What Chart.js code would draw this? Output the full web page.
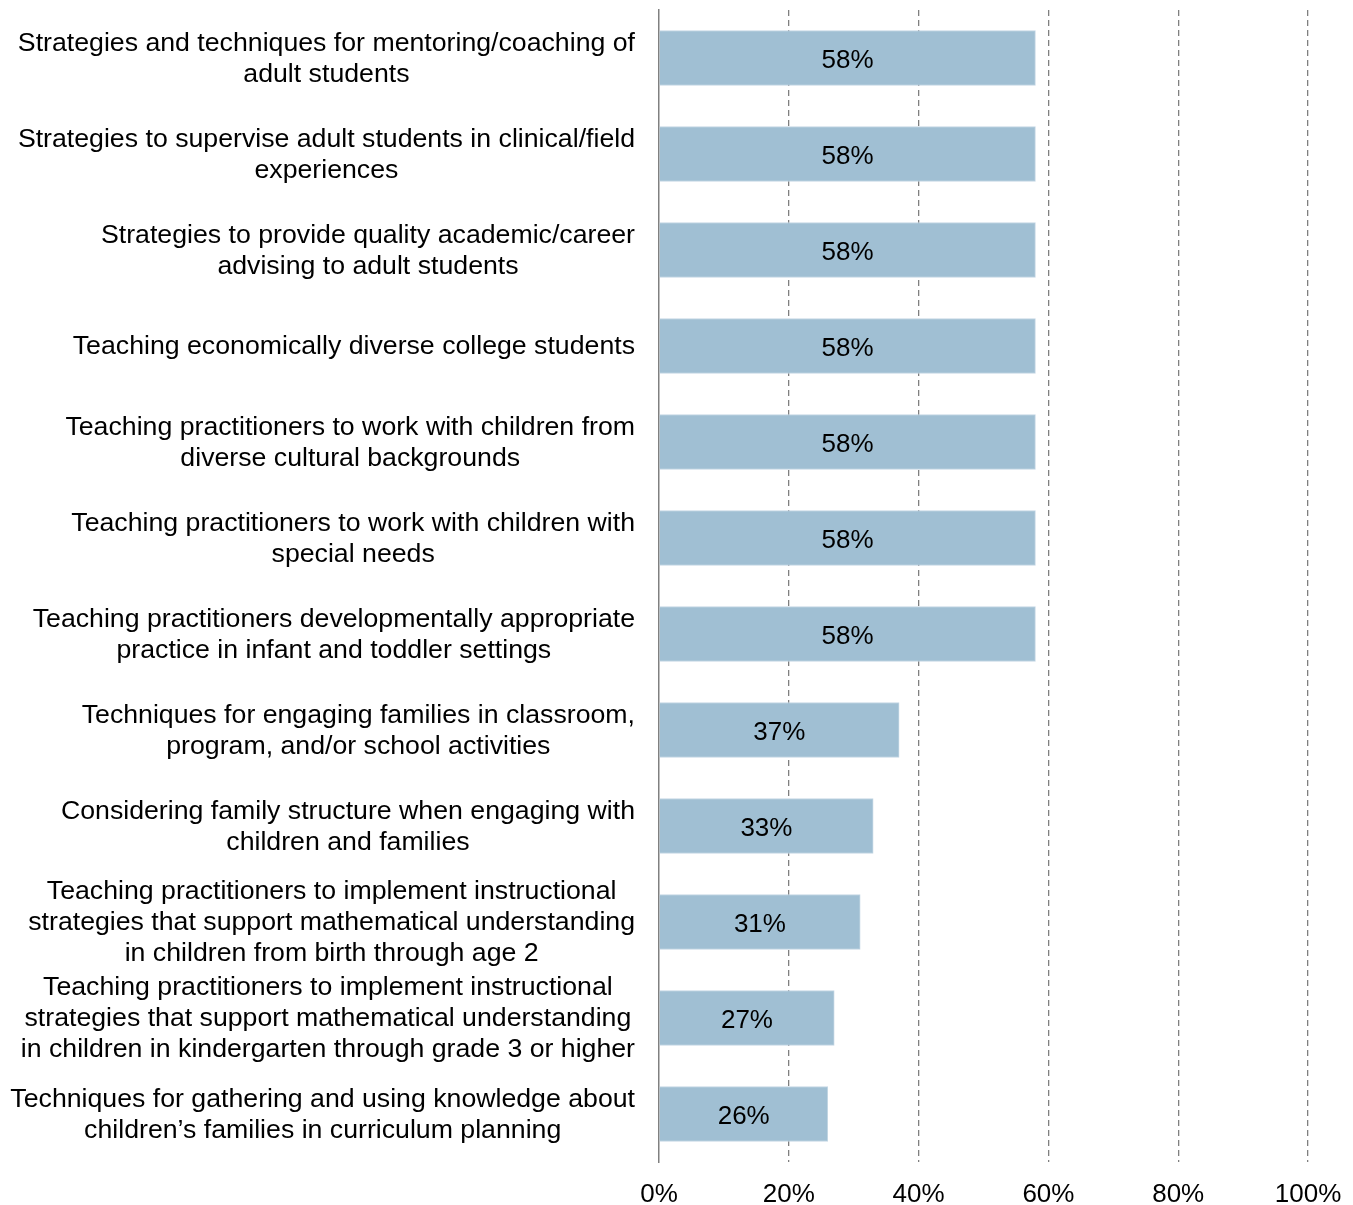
<!DOCTYPE html>
<html>
<head>
<meta charset="utf-8">
<script src="https://cdn.jsdelivr.net/npm/chart.js@4"></script>
<style>
  body { margin: 0; background: #fff; }
  canvas { display: block; }
</style>
</head>
<body>
<canvas id="chart" width="1353" height="1205"></canvas>
<script>
const topicLabels = [
    ['Strategies and techniques for mentoring/coaching of', 'adult students'],
    ['Strategies to supervise adult students in clinical/field', 'experiences'],
    ['Strategies to provide quality academic/career', 'advising to adult students'],
    ['Teaching economically diverse college students'],
    ['Teaching practitioners to work with children from', 'diverse cultural backgrounds'],
    ['Teaching practitioners to work with children with', 'special needs'],
    ['Teaching practitioners developmentally appropriate', 'practice in infant and toddler settings'],
    ['Techniques for engaging families in classroom,', 'program, and/or school activities'],
    ['Considering family structure when engaging with', 'children and families'],
    ['Teaching practitioners to implement instructional', 'strategies that support mathematical understanding', 'in children from birth through age 2'],
    ['Teaching practitioners to implement instructional', 'strategies that support mathematical understanding', 'in children in kindergarten through grade 3 or higher'],
    ['Techniques for gathering and using knowledge about', 'children\u2019s families in curriculum planning']
];
const percentValues = [58, 58, 58, 58, 58, 58, 58, 37, 33, 31, 27, 26];
const xTicks = [0, 20, 40, 60, 80, 100];

const fontFamily = '"Liberation Sans", Arial, sans-serif';

// category labels: block right-aligned next to the axis, lines centred inside the block
const sideLabels = {
    id: 'sideLabels',
    afterDraw(chart) {
        const ctx = chart.ctx;
        const yScale = chart.scales.y;
        const right = chart.chartArea.left - 24;
        const lineH = 31;
        ctx.save();
        ctx.font = '26.7px ' + fontFamily;
        ctx.fillStyle = '#000';
        ctx.textAlign = 'center';
        ctx.textBaseline = 'middle';
        topicLabels.forEach((lines, i) => {
            const y = yScale.getPixelForValue(i) + 1;
            const w = Math.max(...lines.map(l => ctx.measureText(l).width));
            const cx = right - w / 2;
            lines.forEach((line, j) => {
                ctx.fillText(line, cx, y + (j - (lines.length - 1) / 2) * lineH);
            });
        });
        ctx.restore();
    }
};

// value labels centred in each bar
const barValues = {
    id: 'barValues',
    afterDatasetsDraw(chart) {
        const ctx = chart.ctx;
        const meta = chart.getDatasetMeta(0);
        ctx.save();
        ctx.font = '26px ' + fontFamily;
        ctx.fillStyle = '#000';
        ctx.textAlign = 'center';
        ctx.textBaseline = 'middle';
        meta.data.forEach((bar, i) => {
            ctx.fillText(percentValues[i] + '%', (bar.base + bar.x) / 2, bar.y + 3);
        });
        ctx.restore();
    }
};

new Chart(document.getElementById('chart'), {
    type: 'bar',
    data: {
        labels: topicLabels.map(l => l.join(' ')),
        datasets: [{
            data: percentValues,
            backgroundColor: '#a0bfd3',
            borderColor: '#c4d7e4',
            borderWidth: 1,
            barThickness: 55
        }]
    },
    options: {
        indexAxis: 'y',
        responsive: false,
        animation: false,
        layout: {
            padding: { left: 659, right: 45, top: 10, bottom: 0 }
        },
        plugins: {
            legend: { display: false },
            tooltip: { enabled: false }
        },
        scales: {
            x: {
                min: 0,
                max: 100,
                afterBuildTicks(scale) {
                    scale.ticks = xTicks.map(v => ({ value: v }));
                },
                afterFit(scale) {
                    scale.height = 43;
                    scale.paddingLeft = 0;
                    scale.paddingRight = 0;
                },
                grid: {
                    color: ctx => ctx.index === 0 ? 'rgba(0,0,0,0)' : '#7f7f7f',
                    lineWidth: 1.3,
                    drawTicks: false
                },
                border: { display: false, dash: [6, 4] },
                ticks: {
                    color: '#000',
                    padding: 20,
                    maxRotation: 0,
                    font: { family: fontFamily, size: 26, lineHeight: 1 },
                    callback: v => v + '%'
                }
            },
            y: {
                grid: { display: false, drawTicks: false },
                border: { display: true, color: '#808080', width: 1.5 },
                ticks: { display: false }
            }
        }
    },
    plugins: [sideLabels, barValues]
});
</script>
</body>
</html>
